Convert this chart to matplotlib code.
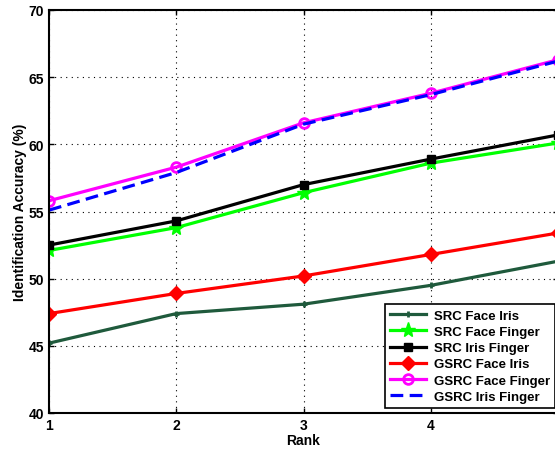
import matplotlib
matplotlib.use("Agg")
import matplotlib.pyplot as plt

plt.rcParams['font.family'] = ['Liberation Sans', 'DejaVu Sans']
plt.rcParams['font.weight'] = 'bold'

ranks = [1, 2, 3, 4, 5]
src_face_iris = [45.2, 47.4, 48.1, 49.5, 51.3]
src_face_finger = [52.1, 53.8, 56.4, 58.6, 60.1]
src_iris_finger = [52.5, 54.3, 57.0, 58.9, 60.7]
gsrc_face_iris = [47.4, 48.9, 50.2, 51.8, 53.4]
gsrc_face_finger = [55.8, 58.3, 61.6, 63.8, 66.3]
gsrc_iris_finger = [55.1, 57.9, 61.5, 63.7, 66.2]

W, H = 555, 452
fig = plt.figure(figsize=(W / 100, H / 100), dpi=100)
ax = fig.add_axes([49 / W, 38 / H, (558 - 49) / W, (414 - 11) / H])

lw = 2.3
ax.plot(ranks, src_face_iris, color='#1f5a3c', marker='+', markersize=5, mew=2, lw=lw, label='SRC Face Iris')
ax.plot(ranks, src_face_finger, color='#00ff00', marker='*', markersize=11, lw=lw, label='SRC Face Finger')
ax.plot(ranks, src_iris_finger, color='black', marker='s', markersize=6, lw=lw, label='SRC Iris Finger')
ax.plot(ranks, gsrc_face_iris, color='red', marker='D', markersize=7, lw=lw, label='GSRC Face Iris')
ax.plot(ranks, gsrc_face_finger, color='magenta', marker='o', markersize=7, mfc='none', mew=2, lw=lw, label='GSRC Face Finger')
ax.plot(ranks, gsrc_iris_finger, color='blue', ls=(0, (4, 2)), lw=lw, label='GSRC Iris Finger')

ax.set_xlim(1, 5)
ax.set_ylim(40, 70)
ax.set_xticks(ranks)
ax.set_yticks(range(40, 71, 5))
ax.tick_params(direction='in', labelsize=10, top=True, right=True, width=1)
for lab in ax.get_xticklabels() + ax.get_yticklabels():
    lab.set_fontweight('bold')
ax.grid(True, color='black', ls=(0, (1, 4)), lw=0.8)
for s in ax.spines.values():
    s.set_linewidth(1.5)

ax.set_xlabel('Rank', fontsize=10, fontweight='bold', labelpad=1)
ax.set_ylabel('Identification Accuracy (%)', fontsize=10, fontweight='bold', labelpad=1)

leg = ax.legend(loc='lower right', bbox_to_anchor=(555 / W, (452 - 409) / H),
                bbox_transform=fig.transFigure, borderaxespad=0, fancybox=False,
                prop={'weight': 'bold', 'size': 9.5}, handlelength=2.7,
                labelspacing=0.3, handletextpad=0.6, borderpad=0.4)
leg.get_frame().set_edgecolor('black')
leg.get_frame().set_linewidth(1.2)
leg.get_frame().set_alpha(1)

fig.savefig('out.png', dpi=100)
